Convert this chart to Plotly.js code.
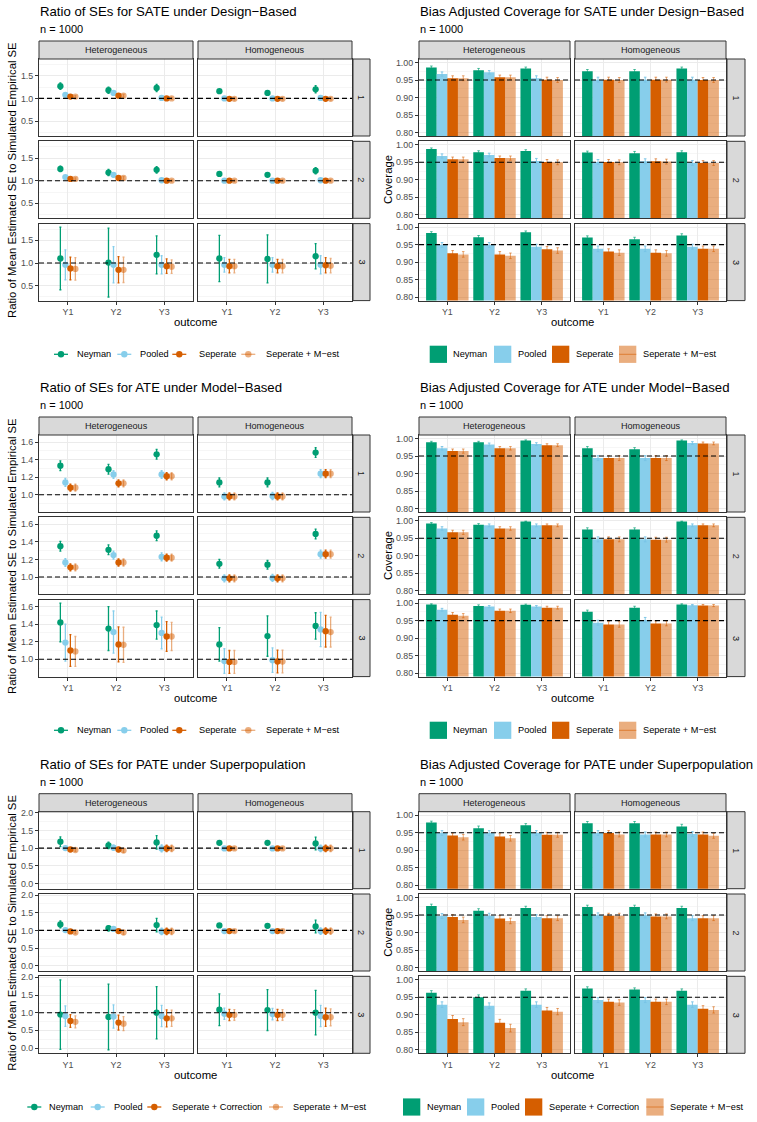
<!DOCTYPE html>
<html><head><meta charset="utf-8">
<script src="https://cdn.plot.ly/plotly-3.0.1.min.js"></script>
<style>html,body{margin:0;padding:0;background:#fff}#chart{width:757px;height:1122px}</style>
</head><body><div id="chart"></div>
<script>
// ---------- categories ----------
const outcomes = ["Y1","Y2","Y3"];
const effects = ["Heterogeneous","Homogeneous"];
const settings = ["1","2","3"];
const methodsA = ["Neyman","Pooled","Seperate","Seperate + M\u2212est"];
const methodsB = ["Neyman","Pooled","Seperate + Correction","Seperate + M\u2212est"];
// order of every series: setting 1 (Het Y1,Y2,Y3, Hom Y1,Y2,Y3), setting 2 (...), setting 3 (...)

// ---------- Ratio of SEs, SATE, design-based ----------
const sateRatioNeyman    = [1.27,1.18,1.23, 1.16,1.12,1.20, 1.26,1.18,1.24, 1.15,1.13,1.22, 1.10,1.01,1.18, 1.10,1.09,1.15];
const sateRatioNeymanErr = [0.07,0.07,0.08, 0.03,0.03,0.08, 0.06,0.07,0.07, 0.03,0.03,0.07, 0.69,0.76,0.42, 0.51,0.53,0.28];
const sateRatioPooled    = [1.08,1.12,1.01, 1.00,1.00,1.01, 1.08,1.13,1.01, 1.00,1.00,1.01, 0.96,0.96,0.96, 0.96,0.96,0.96];
const sateRatioPooledErr = [0.03,0.05,0.02, 0.02,0.02,0.02, 0.03,0.05,0.02, 0.02,0.02,0.02, 0.33,0.40,0.20, 0.16,0.16,0.20];
const sateRatioSep       = [1.04,1.06,1.00, 0.99,0.99,0.99, 1.04,1.06,1.00, 1.00,1.00,1.00, 0.88,0.85,0.93, 0.93,0.93,0.95];
const sateRatioSepErr    = [0.02,0.03,0.02, 0.02,0.02,0.02, 0.02,0.03,0.02, 0.02,0.02,0.02, 0.25,0.29,0.16, 0.15,0.15,0.17];
const sateRatioMest      = [1.04,1.06,1.00, 0.99,0.99,0.99, 1.04,1.06,1.00, 1.00,1.00,1.00, 0.87,0.85,0.92, 0.93,0.93,0.94];
const sateRatioMestErr   = [0.02,0.03,0.02, 0.02,0.02,0.02, 0.02,0.03,0.02, 0.02,0.02,0.02, 0.25,0.28,0.15, 0.15,0.15,0.16];

// ---------- Coverage, SATE, design-based ----------
const sateCovNeyman    = [0.986,0.978,0.983, 0.975,0.975,0.983, 0.988,0.979,0.982, 0.978,0.976,0.979, 0.983,0.971,0.985, 0.970,0.965,0.976];
const sateCovNeymanErr = [0.004,0.005,0.004, 0.005,0.005,0.004, 0.003,0.004,0.004, 0.004,0.005,0.004, 0.004,0.005,0.004, 0.005,0.006,0.005];
const sateCovPooled    = [0.967,0.972,0.955, 0.951,0.951,0.951, 0.968,0.971,0.954, 0.951,0.953,0.948, 0.949,0.949,0.944, 0.938,0.938,0.944];
const sateCovPooledErr = [0.006,0.005,0.007, 0.007,0.007,0.007, 0.006,0.005,0.007, 0.007,0.007,0.007, 0.007,0.007,0.007, 0.008,0.008,0.007];
const sateCovSep       = [0.955,0.958,0.951, 0.951,0.951,0.950, 0.959,0.962,0.951, 0.951,0.953,0.948, 0.925,0.922,0.937, 0.930,0.927,0.938];
const sateCovSepErr    = [0.007,0.006,0.007, 0.007,0.007,0.007, 0.006,0.006,0.007, 0.007,0.007,0.007, 0.008,0.008,0.008, 0.008,0.008,0.008];
const sateCovMest      = [0.955,0.958,0.950, 0.950,0.951,0.950, 0.959,0.962,0.950, 0.950,0.952,0.948, 0.922,0.918,0.933, 0.927,0.925,0.938];
const sateCovMestErr   = [0.007,0.006,0.007, 0.007,0.007,0.007, 0.006,0.006,0.007, 0.007,0.007,0.007, 0.008,0.008,0.008, 0.008,0.008,0.008];

// ---------- Ratio of SEs, ATE, model-based ----------
const ateRatioNeyman    = [1.33,1.29,1.46, 1.14,1.14,1.48, 1.35,1.31,1.47, 1.15,1.14,1.49, 1.42,1.35,1.39, 1.17,1.265,1.38];
const ateRatioNeymanErr = [0.055,0.055,0.055, 0.05,0.05,0.055, 0.055,0.055,0.055, 0.05,0.05,0.055, 0.22,0.25,0.16, 0.19,0.23,0.15];
const ateRatioPooled    = [1.14,1.23,1.23, 0.98,0.985,1.24, 1.165,1.25,1.23, 0.985,0.99,1.26, 1.19,1.31,1.30, 0.98,0.99,1.34];
const ateRatioPooledErr = [0.045,0.045,0.045, 0.04,0.04,0.045, 0.045,0.045,0.045, 0.04,0.04,0.045, 0.21,0.24,0.18, 0.14,0.14,0.195];
const ateRatioSep       = [1.08,1.13,1.21, 0.98,0.98,1.24, 1.11,1.165,1.22, 0.985,0.985,1.26, 1.10,1.17,1.26, 0.97,0.975,1.32];
const ateRatioSepErr    = [0.04,0.04,0.04, 0.04,0.04,0.045, 0.04,0.04,0.04, 0.04,0.04,0.045, 0.18,0.20,0.17, 0.13,0.13,0.18];
const ateRatioMest      = [1.08,1.13,1.21, 0.98,0.98,1.24, 1.11,1.165,1.22, 0.985,0.985,1.26, 1.09,1.165,1.26, 0.97,0.975,1.31];
const ateRatioMestErr   = [0.04,0.04,0.04, 0.04,0.04,0.045, 0.04,0.04,0.04, 0.04,0.04,0.045, 0.17,0.20,0.16, 0.13,0.13,0.17];

// ---------- Coverage, ATE, model-based ----------
const ateCovNeyman    = [0.989,0.989,0.994, 0.972,0.969,0.994, 0.992,0.989,0.998, 0.975,0.975,0.998, 0.996,0.992,0.995, 0.975,0.987,0.996];
const ateCovNeymanErr = [0.003,0.003,0.002, 0.005,0.005,0.002, 0.003,0.003,0.001, 0.005,0.005,0.001, 0.002,0.003,0.002, 0.005,0.004,0.002];
const ateCovPooled    = [0.972,0.983,0.984, 0.944,0.944,0.987, 0.978,0.987,0.987, 0.947,0.947,0.987, 0.981,0.990,0.990, 0.944,0.952,0.994];
const ateCovPooledErr = [0.005,0.004,0.004, 0.007,0.007,0.004, 0.005,0.004,0.004, 0.007,0.007,0.004, 0.004,0.003,0.003, 0.007,0.007,0.002];
const ateCovSep       = [0.964,0.972,0.981, 0.944,0.944,0.986, 0.967,0.978,0.987, 0.947,0.946,0.987, 0.967,0.978,0.987, 0.939,0.942,0.993];
const ateCovSepErr    = [0.006,0.005,0.004, 0.007,0.007,0.004, 0.006,0.005,0.004, 0.007,0.007,0.004, 0.006,0.005,0.004, 0.008,0.007,0.003];
const ateCovMest      = [0.964,0.972,0.981, 0.944,0.944,0.986, 0.967,0.978,0.987, 0.947,0.946,0.987, 0.964,0.978,0.987, 0.939,0.942,0.993];
const ateCovMestErr   = [0.006,0.005,0.004, 0.007,0.007,0.004, 0.006,0.005,0.004, 0.007,0.007,0.004, 0.006,0.005,0.004, 0.008,0.007,0.003];

// ---------- Ratio of SEs, PATE, superpopulation ----------
const pateRatioNeyman    = [1.18,1.075,1.16, 1.15,1.15,1.13, 1.17,1.06,1.15, 1.14,1.13,1.11, 0.945,0.88,1.00, 1.085,1.075,1.00];
const pateRatioNeymanErr = [0.14,0.09,0.19, 0.03,0.03,0.18, 0.10,0.07,0.19, 0.03,0.03,0.18, 0.985,0.93,0.74, 0.45,0.58,0.63];
const pateRatioPooled    = [1.00,1.01,0.99, 0.99,0.99,0.99, 1.01,1.04,0.97, 0.98,0.98,0.98, 0.905,0.89,0.905, 0.97,0.96,0.905];
const pateRatioPooledErr = [0.05,0.07,0.10, 0.03,0.03,0.09, 0.04,0.05,0.09, 0.03,0.03,0.09, 0.29,0.33,0.30, 0.16,0.16,0.30];
const pateRatioSep       = [0.96,0.96,0.99, 0.99,0.99,0.99, 0.97,0.98,0.97, 0.98,0.98,0.98, 0.765,0.72,0.84, 0.935,0.935,0.87];
const pateRatioSepErr    = [0.04,0.06,0.09, 0.03,0.03,0.09, 0.04,0.05,0.09, 0.03,0.03,0.09, 0.18,0.21,0.24, 0.16,0.16,0.26];
const pateRatioMest      = [0.945,0.93,0.99, 0.99,0.99,0.99, 0.94,0.94,0.97, 0.98,0.98,0.98, 0.74,0.69,0.84, 0.935,0.935,0.87];
const pateRatioMestErr   = [0.04,0.05,0.09, 0.03,0.03,0.09, 0.03,0.05,0.09, 0.03,0.03,0.09, 0.17,0.20,0.23, 0.15,0.15,0.24];

// ---------- Coverage, PATE, superpopulation ----------
const pateCovNeyman    = [0.979,0.963,0.971, 0.977,0.977,0.968, 0.976,0.962,0.970, 0.973,0.973,0.970, 0.963,0.950,0.969, 0.975,0.972,0.969];
const pateCovNeymanErr = [0.004,0.006,0.005, 0.005,0.005,0.006, 0.005,0.006,0.005, 0.005,0.005,0.005, 0.006,0.007,0.005, 0.005,0.005,0.005];
const pateCovPooled    = [0.949,0.949,0.949, 0.949,0.945,0.946, 0.947,0.948,0.944, 0.949,0.949,0.941, 0.929,0.926,0.929, 0.942,0.942,0.929];
const pateCovPooledErr = [0.007,0.007,0.007, 0.007,0.007,0.007, 0.007,0.007,0.007, 0.007,0.007,0.007, 0.008,0.008,0.008, 0.007,0.007,0.008];
const pateCovSep       = [0.942,0.939,0.944, 0.949,0.945,0.945, 0.944,0.940,0.941, 0.948,0.946,0.941, 0.888,0.877,0.912, 0.937,0.937,0.917];
const pateCovSepErr    = [0.007,0.008,0.007, 0.007,0.007,0.007, 0.007,0.008,0.007, 0.007,0.007,0.007, 0.010,0.010,0.009, 0.008,0.008,0.009];
const pateCovMest      = [0.937,0.934,0.944, 0.945,0.945,0.941, 0.936,0.933,0.941, 0.948,0.946,0.941, 0.879,0.862,0.909, 0.935,0.937,0.914];
const pateCovMestErr   = [0.008,0.008,0.007, 0.007,0.007,0.007, 0.008,0.008,0.007, 0.007,0.007,0.007, 0.010,0.011,0.009, 0.008,0.008,0.009];

// ---------- drawing ----------
const W = 757, H = 1122;
const FONT = '"Liberation Sans", Arial, Helvetica, sans-serif';
const ptCol  = ['#009E73', '#87CEEB', '#D55E00', 'rgba(213,94,0,0.5)'];
const barCol = ['#009E73', '#87CEEB', '#D55E00', 'rgba(213,94,0,0.5)'];
const barErrCol = ['rgba(0,158,115,0.65)', 'rgba(120,195,230,0.9)', 'rgba(213,94,0,0.6)', 'rgba(213,94,0,0.55)'];
const dodgePts  = [-0.156, -0.052, 0.052, 0.156];
const dodgeBars = [-0.3375, -0.1125, 0.1125, 0.3375];
const FS = {title: 13.2, sub: 11, strip: 9.1, tick: 8.9, axis: 11.3, legend: 9.2};

const COLS = {
  L: {fx: [[39,193],[198,352]], sx: [353,370], tx: 39, ytx: 12},
  R: {fx: [[419,570],[575,726]], sx: [727,745], tx: 419, ytx: 388}
};
const LEGS = {
  L1: {marks: [61,124.3,179.3,248.3], texts: [75.7,139.3,197.7,265]},
  L3: {marks: [34.3,97.7,154.3,276], texts: [48.3,112.7,170.7,291.7]},
  R1: {sq: [429.7,494,552,619], texts: [452,516.7,574.7,642.3]},
  R3: {sq: [403,467,525,646.3], texts: [425.7,489.7,548,668.7]}
};
const ratioTitle = 'Ratio of Mean Estimated SE to Simulated Empirical SE';

const panels = [
  {col:'L', off:0, kind:'ratio', title:'Ratio of SEs for SATE under Design\u2212Based',
   vals:[sateRatioNeyman,sateRatioPooled,sateRatioSep,sateRatioMest],
   errs:[sateRatioNeymanErr,sateRatioPooledErr,sateRatioSepErr,sateRatioMestErr],
   labels:methodsA, yr:[0.17,1.87], dtick:0.5, fmt:'.1f', ref:1, ytitle:ratioTitle, leg:'L1'},
  {col:'R', off:0, kind:'cov', title:'Bias Adjusted Coverage for SATE under Design\u2212Based',
   vals:[sateCovNeyman,sateCovPooled,sateCovSep,sateCovMest],
   errs:[sateCovNeymanErr,sateCovPooledErr,sateCovSepErr,sateCovMestErr],
   labels:methodsA, yr:[0.79,1.01], dtick:0.05, fmt:'.2f', ref:0.95, ytitle:'Coverage', leg:'R1'},
  {col:'L', off:376, kind:'ratio', title:'Ratio of SEs for ATE under Model\u2212Based',
   vals:[ateRatioNeyman,ateRatioPooled,ateRatioSep,ateRatioMest],
   errs:[ateRatioNeymanErr,ateRatioPooledErr,ateRatioSepErr,ateRatioMestErr],
   labels:methodsA, yr:[0.803,1.68], dtick:0.2, fmt:'.1f', ref:1, ytitle:ratioTitle, leg:'L1'},
  {col:'R', off:376, kind:'cov', title:'Bias Adjusted Coverage for ATE under Model\u2212Based',
   vals:[ateCovNeyman,ateCovPooled,ateCovSep,ateCovMest],
   errs:[ateCovNeymanErr,ateCovPooledErr,ateCovSepErr,ateCovMestErr],
   labels:methodsA, yr:[0.79,1.01], dtick:0.05, fmt:'.2f', ref:0.95, ytitle:'Coverage', leg:'R1'},
  {col:'L', off:752.7, kind:'ratio', title:'Ratio of SEs for PATE under Superpopulation',
   vals:[pateRatioNeyman,pateRatioPooled,pateRatioSep,pateRatioMest],
   errs:[pateRatioNeymanErr,pateRatioPooledErr,pateRatioSepErr,pateRatioMestErr],
   labels:methodsB, yr:[-0.15,2.03], dtick:0.5, fmt:'.1f', ref:1, ytitle:ratioTitle, leg:'L3'},
  {col:'R', off:752.7, kind:'cov', title:'Bias Adjusted Coverage for PATE under Superpopulation',
   vals:[pateCovNeyman,pateCovPooled,pateCovSep,pateCovMest],
   errs:[pateCovNeymanErr,pateCovPooledErr,pateCovSepErr,pateCovMestErr],
   labels:methodsB, yr:[0.79,1.01], dtick:0.05, fmt:'.2f', ref:0.95, ytitle:'Coverage', leg:'R3'}
];

const X = p => p / W;
const Y = p => 1 - p / H;
const layout = {
  width: W, height: H, margin: {l:0, r:0, t:0, b:0},
  paper_bgcolor: '#ffffff', plot_bgcolor: '#ffffff',
  showlegend: false, barmode: 'overlay', hovermode: false,
  font: {family: FONT, color: '#000000'},
  shapes: [], annotations: []
};
const traces = [];
const xIdx = outcomes.map((o, i) => i + 1);
function sl(arr, r, e) { const s = r * 6 + e * 3; return arr.slice(s, s + 3); }
function ann(text, x, y, opt) {
  layout.annotations.push(Object.assign({text: text, x: X(x), y: Y(y), xref: 'paper', yref: 'paper',
    showarrow: false, xanchor: 'center', yanchor: 'middle', font: {size: 9, color: '#1A1A1A', family: FONT}}, opt || {}));
}
function rect(x0, y0, x1, y1, fill, line) {
  layout.shapes.push({type: 'rect', xref: 'paper', yref: 'paper', x0: X(x0), x1: X(x1), y0: Y(y1), y1: Y(y0),
    fillcolor: fill, line: line || {width: 0}});
}

let k = 0;
panels.forEach(P => {
  const C = COLS[P.col], o = P.off;
  // titles
  ann(P.title, C.tx - 1, o + 11.5, {xanchor: 'left', font: {size: FS.title, color: '#000', family: FONT}});
  ann('n = 1000', C.tx - 1, o + 29, {xanchor: 'left', font: {size: FS.sub, color: '#000', family: FONT}});
  // top strips
  effects.forEach((ef, e) => {
    const fx = C.fx[e];
    rect(fx[0], o + 41, fx[1], o + 59, '#D9D9D9', {color: '#333333', width: 1});
    ann(ef, (fx[0] + fx[1]) / 2, o + 50, {font: {size: FS.strip, color: '#1A1A1A', family: FONT}});
  });
  for (let r = 0; r < 3; r++) {
    const y0 = o + 59 + r * 82.3, y1 = y0 + 77;
    rect(C.sx[0], y0, C.sx[1], y1, '#D9D9D9', {color: '#333333', width: 1});
    ann(settings[r], (C.sx[0] + C.sx[1]) / 2, (y0 + y1) / 2, {textangle: 90, font: {size: FS.strip, color: '#1A1A1A', family: FONT}});
    for (let e = 0; e < 2; e++) {
      k++;
      const xn = k === 1 ? 'x' : 'x' + k, yn = k === 1 ? 'y' : 'y' + k;
      const xk = 'xaxis' + (k === 1 ? '' : k), yk = 'yaxis' + (k === 1 ? '' : k);
      const fx = C.fx[e];
      layout[xk] = {domain: [X(fx[0]), X(fx[1])], anchor: yn, type: 'linear', range: [0.4, 3.6],
        tickmode: 'array', tickvals: xIdx, ticktext: outcomes, showticklabels: r === 2,
        ticks: r === 2 ? 'outside' : '', ticklen: 3, tickcolor: '#333333', tickwidth: 1,
        tickfont: {size: FS.tick, color: '#4D4D4D', family: FONT},
        showgrid: true, gridcolor: '#EBEBEB', gridwidth: 1, zeroline: false,
        showline: true, mirror: true, linecolor: '#333333', linewidth: 1, fixedrange: true};
      layout[yk] = {domain: [Y(y1), Y(y0)], anchor: xn, type: 'linear', range: P.yr,
        tick0: 0, dtick: P.dtick, tickformat: P.fmt, showticklabels: e === 0,
        ticks: e === 0 ? 'outside' : '', ticklen: 3, tickcolor: '#333333', tickwidth: 1,
        tickfont: {size: FS.tick, color: '#4D4D4D', family: FONT},
        showgrid: true, gridcolor: '#EBEBEB', gridwidth: 1, zeroline: false,
        minor: {tick0: 0, dtick: P.dtick / 2, showgrid: true, gridcolor: '#F2F2F2', gridwidth: 0.7, ticks: ''},
        showline: true, mirror: true, linecolor: '#333333', linewidth: 1, fixedrange: true};
      for (let m = 0; m < 4; m++) {
        if (P.kind === 'ratio') {
          traces.push({type: 'scatter', mode: 'markers', xaxis: xn, yaxis: yn,
            x: xIdx.map(v => v + dodgePts[m]), y: sl(P.vals[m], r, e),
            marker: {color: ptCol[m], size: 6.3, line: {width: 0}},
            error_y: {type: 'data', array: sl(P.errs[m], r, e), visible: true, color: ptCol[m], thickness: 1.3, width: 1},
            hoverinfo: 'skip'});
        } else {
          traces.push({type: 'bar', xaxis: xn, yaxis: yn,
            x: xIdx.map(v => v + dodgeBars[m]), y: sl(P.vals[m], r, e), width: 0.225,
            marker: {color: barCol[m], line: {width: 0}},
            error_y: {type: 'data', array: sl(P.errs[m], r, e), visible: true, color: barErrCol[m], thickness: 1, width: 1.3},
            hoverinfo: 'skip'});
        }
      }
      layout.shapes.push({type: 'line', xref: xn + ' domain', yref: yn, x0: 0, x1: 1, y0: P.ref, y1: P.ref,
        line: {color: '#000000', width: 1.1, dash: '5px,3px'}});
    }
  }
  // axis titles
  const midX = (C.fx[0][0] + C.fx[1][1]) / 2;
  ann('outcome', midX, o + 322.3, {font: {size: FS.axis, color: '#000', family: FONT}});
  ann(P.ytitle, C.ytx, o + 180, {textangle: -90, font: {size: FS.axis, color: '#000', family: FONT}});
  // legend
  const yc = o + 354.3, L = LEGS[P.leg];
  P.labels.forEach((lab, m) => {
    if (P.kind === 'ratio') {
      const xm = L.marks[m];
      layout.shapes.push({type: 'line', xref: 'paper', yref: 'paper', x0: X(xm - 7), x1: X(xm + 7), y0: Y(yc), y1: Y(yc),
        line: {color: ptCol[m], width: 1.3}});
      layout.shapes.push({type: 'circle', xref: 'paper', yref: 'paper', x0: X(xm - 3.2), x1: X(xm + 3.2), y0: Y(yc + 3.2), y1: Y(yc - 3.2),
        fillcolor: ptCol[m], line: {width: 0}});
    } else {
      const xs = L.sq[m];
      rect(xs, yc - 8.6, xs + 17.3, yc + 8.6, barCol[m]);
      if (m === 3) {
        layout.shapes.push({type: 'line', xref: 'paper', yref: 'paper', x0: X(xs), x1: X(xs + 17.3), y0: Y(yc), y1: Y(yc),
          line: {color: 'rgba(213,94,0,0.6)', width: 1}});
      }
    }
    ann(lab, L.texts[m] - 1, yc, {xanchor: 'left', font: {size: FS.legend, color: '#000', family: FONT}});
  });
});

Plotly.newPlot('chart', traces, layout, {staticPlot: true, displayModeBar: false});
</script>
</body></html>
